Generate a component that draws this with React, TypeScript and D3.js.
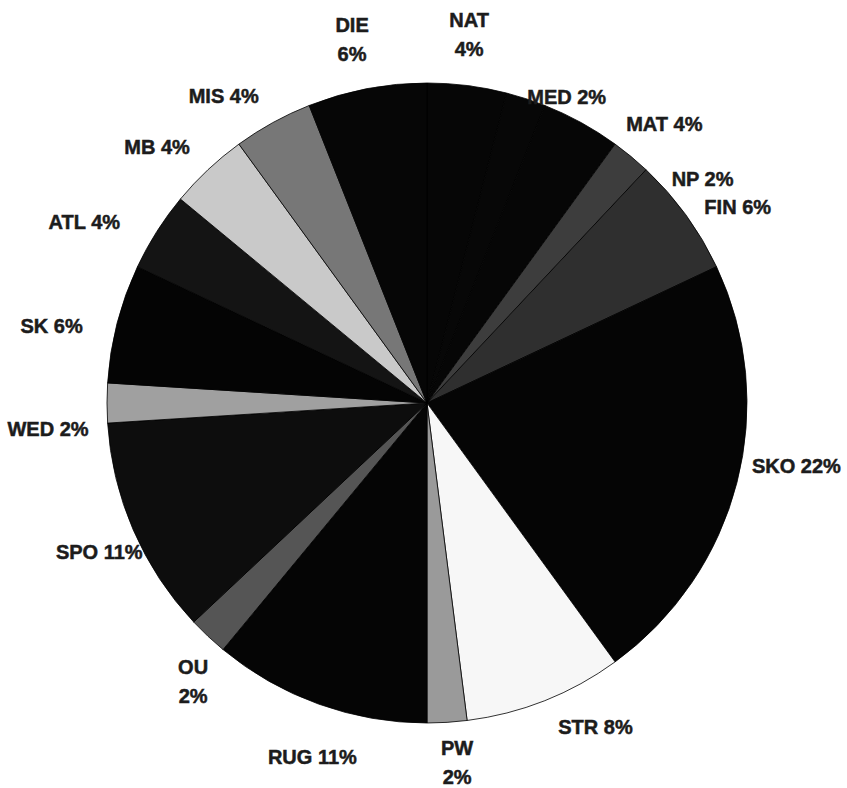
import React from "react";
import * as d3 from "d3";

const categories = ["NAT", "MED", "MAT", "NP", "FIN", "SKO", "STR", "PW", "RUG", "OU", "SPO", "WED", "SK", "ATL", "MB", "MIS", "DIE"];
const values = [4, 2, 4, 2, 6, 22, 8, 2, 11, 2, 11, 2, 6, 4, 4, 4, 6];
const wrapped = ["NAT", "PW", "OU", "DIE"];

// styles / layout (not data)
const fills = ["#060606", "#070707", "#060606", "#3d3d3d", "#2f2f2f", "#050505", "#f7f7f7", "#9a9a9a", "#050505", "#555555", "#0d0d0d", "#a0a0a0", "#040404", "#141414", "#c9c9c9", "#777777", "#060606"];
const labelNudge: [number, number][] = [
  [-4, -3], [26, 44], [60, 43], [41, 60], [13, 20], [13, -29], [33, -18], [7, -8], [10, 8],
  [18, 10], [10, 3], [-11, 26], [-19, 15], [-32, 16], [-18, 12], [-26, 15], [-6, -2],
];

const W = 847, H = 788;
const cx = 427, cy = 403, R = 320, LR = 368;

export default function App() {
  const pie = d3.pie<number>().sort(null).value((d) => d).startAngle(0).endAngle(2 * Math.PI);
  const arcs = pie(values);
  const arc = d3.arc<d3.PieArcDatum<number>>().innerRadius(0).outerRadius(R);
  const style = {
    fontFamily: "'Liberation Sans', Arial, sans-serif",
    fontWeight: 700,
    fontSize: 20,
    fill: "#1c1c1c",
    stroke: "#1c1c1c",
    strokeWidth: 0.5,
  } as React.CSSProperties;
  return (
    <div style={{ position: "absolute", left: 0, top: 0 }}>
      <svg width={W} height={H} style={{ display: "block", background: "#fff" }}>
        <g transform={`translate(${cx},${cy})`}>
          {arcs.map((a, i) => (
            <path key={i} d={arc(a) || ""} fill={fills[i]} stroke="#000" strokeWidth={0.8} strokeLinejoin="round" />
          ))}
          {arcs.map((a, i) => {
            const mid = (a.startAngle + a.endAngle) / 2;
            const x = Math.sin(mid) * LR + labelNudge[i][0];
            const y = -Math.cos(mid) * LR + labelNudge[i][1];
            const name = categories[i];
            const pct = `${values[i]}%`;
            if (wrapped.includes(name)) {
              return (
                <text key={"l" + i} x={x} y={y} textAnchor="middle" style={style}>
                  <tspan x={x} dy={-14.5 + 7}>{name}</tspan>
                  <tspan x={x} dy={29}>{pct}</tspan>
                </text>
              );
            }
            return (
              <text key={"l" + i} x={x} y={y + 7} textAnchor="middle" style={style}>
                {`${name} ${pct}`}
              </text>
            );
          })}
        </g>
      </svg>
    </div>
  );
}
